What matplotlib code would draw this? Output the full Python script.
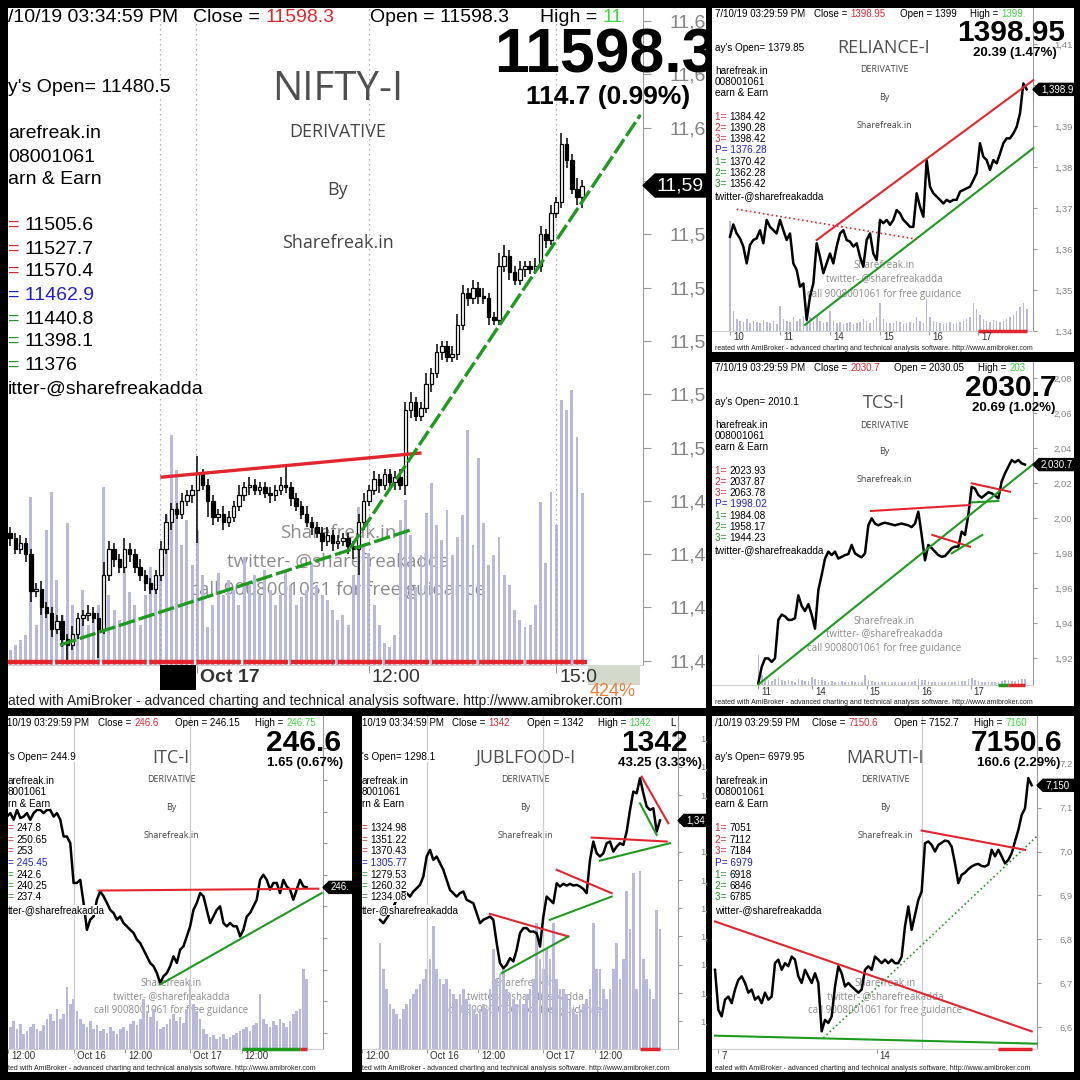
import numpy as np
import matplotlib
matplotlib.use("Agg")
import matplotlib.pyplot as plt
import matplotlib.transforms as mtransforms
from matplotlib.patches import Rectangle, Polygon

plt.rcParams["font.family"] = ["Liberation Sans", "DejaVu Sans"]

LAV = "#b9b9dd"
RED = "#e3262e"
GRN = "#1e9b1e"
HIGRN = "#3bd83b"
BLUE = "#2020d0"
K = "black"
TITLE_FONT = "Open Sans"

# ---------------- NIFTY-I : 5 min candles (16-17 Oct) ----------------
nifty_first_open = 11468
nifty_close = [11466, 11462, 11464, 11460, 11446, 11447, 11440, 11438, 11432, 11435,
               11428, 11426, 11430, 11436, 11437, 11438, 11436, 11432, 11452, 11462,
               11458, 11455, 11462, 11460, 11455, 11452, 11449, 11447, 11452, 11462,
               11472, 11477, 11475, 11480, 11482, 11484, 11490, 11486, 11480, 11474,
               11475, 11472, 11474, 11478, 11482, 11485, 11486, 11484, 11485, 11483,
               11482, 11484, 11486, 11485, 11481, 11478, 11475, 11472, 11470, 11468,
               11465, 11467, 11464, 11465, 11466, 11463, 11462, 11472, 11480, 11484,
               11488, 11486, 11490, 11487, 11489, 11486, 11514, 11517, 11512, 11515,
               11524, 11528, 11536, 11538, 11534, 11535, 11546, 11558, 11556, 11560,
               11557, 11556, 11549, 11548, 11568, 11572, 11566, 11563, 11567, 11568,
               11567, 11568, 11580, 11578, 11588, 11592, 11614, 11608, 11597, 11594, 11598.3]
nifty_up = [2, 2, 3, 2, 2, 2, 3, 2, 2, 2,
            2, 2, 3, 2, 2, 3, 2, 2, 5, 3,
            2, 2, 4, 2, 2, 3, 2, 2, 2, 3,
            3, 2, 2, 3, 2, 2, 7, 2, 2, 2,
            2, 3, 2, 2, 4, 2, 3, 2, 2, 2,
            2, 2, 3, 8, 2, 2, 2, 3, 2, 2,
            2, 3, 2, 2, 2, 2, 2, 3, 3, 2,
            3, 2, 2, 2, 2, 3, 3, 4, 2, 2,
            4, 2, 3, 2, 2, 3, 4, 3, 2, 3,
            2, 3, 2, 2, 5, 4, 2, 2, 3, 2,
            2, 3, 3, 2, 3, 2, 4, 2, 2, 4, 2]
nifty_dn = [3, 2, 2, 3, 4, 2, 3, 2, 3, 2,
            3, 6, 2, 2, 3, 2, 2, 11, 2, 2,
            3, 2, 2, 3, 2, 2, 3, 2, 2, 2,
            2, 3, 2, 2, 2, 3, 20, 2, 6, 3,
            2, 3, 2, 2, 2, 2, 3, 2, 2, 2,
            3, 2, 2, 2, 3, 2, 2, 2, 3, 2,
            4, 2, 3, 2, 2, 3, 4, 10, 3, 2,
            2, 3, 2, 2, 3, 2, 4, 3, 2, 2,
            2, 3, 2, 3, 2, 2, 2, 2, 3, 2,
            3, 2, 3, 2, 2, 2, 3, 2, 2, 3,
            2, 2, 2, 3, 2, 2, 2, 3, 2, 3, 4]
nifty_vol = [15, 20, 25, 30, 168, 40, 60, 135, 173, 85,
             50, 142, 60, 45, 75, 40, 50, 60, 178, 70,
             55, 45, 103, 73, 60, 40, 70, 98, 80, 110,
             150, 230, 195, 120, 145, 100, 135, 90, 38, 60,
             92, 70, 85, 75, 60, 108, 80, 90, 70, 95,
             75, 60, 70, 95, 80, 60, 68, 75, 102, 80,
             70, 65, 55, 45, 50, 40, 90, 158, 120, 112,
             60, 40, 22, 18, 30, 145, 165, 130, 78, 110,
             152, 182, 140, 125, 155, 110, 128, 150, 235, 120,
             207, 142, 100, 110, 128, 90, 80, 55, 45, 38,
             40, 60, 163, 102, 173, 140, 265, 255, 275, 228, 172]
nifty_yticks = [11420, 11440, 11460, 11480, 11500, 11520, 11540, 11560,
                11580, 11600, 11620, 11640, 11660]
nifty_xtick_pos = [36, 69, 105]
nifty_xtick_lab = ["Oct 17", "12:00", "15:0"]
nifty_grid = [28.8, 35.8, 69, 105]
nifty_trend = [(29.2, 11488.9, 78.8, 11497.9, RED, "-"),
               (9.6, 11425.9, 76.9, 11469.0, GRN, "--"),
               (65.4, 11462.3, 121.2, 11624.8, GRN, "--")]

# ---------------- RELIANCE-I ----------------
rel_price = [1363, 1366, 1363.8, 1362.6, 1360.6, 1356.5, 1361.0, 1362.2, 1362.6, 1364.6,
             1361.4, 1367.1, 1365.4, 1364.6, 1363.8, 1367.1, 1364.6, 1362.2, 1363.8, 1356.5,
             1354.9, 1350.8, 1351.6, 1342.7, 1348.4, 1351.6, 1361.4, 1358.1, 1354.1, 1356.5,
             1358.9, 1356.5, 1360.6, 1363.8, 1364.6, 1362.2, 1361.8, 1360.6, 1361.4, 1358.1,
             1355.7, 1362.2, 1363.8, 1358.9, 1357.3, 1367.1, 1366.3, 1367.1, 1365.9, 1367.1,
             1369.5, 1368.7, 1367.1, 1366.3, 1365.4, 1365.4, 1373.6, 1370.3, 1367.9, 1381.7,
             1375.2, 1373.6, 1372.8, 1372.0, 1371.1, 1372.0, 1371.5, 1372.0, 1372.0, 1374.0,
             1374.4, 1374.8, 1375.2, 1376.8, 1378.5, 1385.8, 1382.5, 1381.7, 1379.3, 1381.7,
             1380.9, 1383.3, 1385.8, 1387.0, 1387.0, 1388.2, 1389.8, 1393.1, 1400.4, 1398.95]
rel_vol = [110, 20, 12, 10, 9, 12, 8, 10, 9, 8,
           11, 9, 8, 10, 7, 25, 12, 10, 9, 14,
           10, 12, 15, 18, 14, 10, 16, 10, 8, 9,
           20, 10, 8, 9, 7, 8, 9, 7, 8, 9,
           12, 10, 8, 11, 14, 28, 12, 9, 8, 8,
           10, 9, 7, 8, 9, 8, 14, 10, 8, 32,
           14, 10, 9, 8, 7, 8, 9, 7, 8, 9,
           10, 12, 14, 28, 22, 16, 12, 10, 9, 11,
           10, 9, 10, 12, 14, 16, 20, 24, 28, 22]
rel_yticks = [1340, 1350, 1360, 1370, 1380, 1390, 1400, 1410]
rel_seps = [0, 15, 30, 45, 59.7, 74.5]
rel_seplab = ["10", "11", "14", "15", "16", "17"]
rel_trend = [(26, 1362.2, 91, 1401.2, RED, "-"),
             (22.5, 1341.5, 91, 1384.6, GRN, "-"),
             (2, 1369.7, 56, 1362.4, RED, ":")]

# ---------------- TCS-I ----------------
tcs_price = [1906, 1915, 1920, 1920, 1918, 1920, 1942, 1945, 1944, 1942,
             1942, 1943, 1956, 1950, 1947, 1951, 1945, 1937, 1959, 1967.6,
             1977, 1981, 1979, 1981, 1977, 1978, 1979, 1979.6, 1984.8, 1980,
             1978.7, 1977.7, 1980, 1996, 2000, 1997, 1996, 1997, 1997.5, 1997,
             1996.5, 1996, 1996.6, 1997, 1996.5, 1996, 1995, 1997, 2003.8, 1990.5,
             1976, 1984.8, 1983, 1981, 1979, 1978, 1978.5, 1980.6, 1982.9, 1983.8,
             1983.8, 1992.4, 1990.5, 2002, 2018, 2017, 2013.3, 2011.8, 2013.3, 2014.9,
             2014.3, 2013, 2011.4, 2021, 2025.7, 2029.5, 2033.3, 2032, 2033.3, 2031.4, 2030.7]
tcs_vol = [30, 10, 6, 5, 4, 6, 8, 5, 4, 5,
           4, 3, 6, 5, 4, 4, 8, 6, 5, 5,
           4, 3, 4, 3, 3, 4, 3, 3, 4, 3,
           3, 3, 10, 5, 4, 3, 3, 3, 3, 3,
           3, 3, 3, 3, 3, 3, 3, 4, 6, 5,
           5, 4, 3, 3, 3, 3, 3, 3, 3, 3,
           4, 4, 4, 6, 7, 5, 4, 3, 3, 3,
           3, 3, 3, 4, 5, 5, 4, 4, 5, 6, 6]
tcs_yticks = [1920, 1940, 1960, 1980, 2000, 2020, 2040, 2060, 2080]
tcs_seps = [0, 16.2, 32.5, 48, 63.7]
tcs_seplab = ["11", "14", "15", "16", "17"]
tcs_trend = [(0, 1905.1, 82.5, 2031.0, GRN, "-"),
             (33.8, 2004.2, 63.5, 2007.6, RED, "-"),
             (52.2, 1990.5, 63.5, 1983.8, RED, "-"),
             (58, 1980.0, 67.2, 1990.5, GRN, "-"),
             (64, 2020.0, 75.5, 2015.2, RED, "-"),
             (64, 2009.1, 72, 2009.9, GRN, "-")]

# ---------------- ITC-I ----------------
itc_price = [248.84, 248.95, 248.74, 249.05, 248.79, 248.84, 248.95, 248.74, 248.95, 249.05,
             249.05, 248.95, 249.05, 249.05, 248.84, 248.95, 248.74, 248.21, 248.21, 248.0,
             246.74, 246.74, 246.84, 246.11, 245.26, 245.58, 245.68, 246.21, 246.47, 246.32,
             246.11, 245.89, 245.79, 245.58, 245.68, 245.47, 245.37, 245.26, 245.16, 244.95,
             244.84, 244.63, 244.42, 244.21, 244.11, 243.89, 243.58, 243.79, 243.89, 244.11,
             244.42, 244.21, 244.63, 244.74, 245.05, 245.37, 245.89, 246.11, 246.42, 246.32,
             245.89, 245.47, 245.68, 245.89, 246.0, 245.47, 245.37, 245.47, 245.37, 245.37,
             245.05, 245.26, 245.68, 245.79, 246.0, 246.21, 246.84, 247.0, 246.84, 246.53,
             246.74, 246.74, 246.42, 246.84, 246.63, 246.53, 246.21, 246.53, 246.84, 246.63, 246.6]
itc_vol = [25, 22, 28, 20, 25, 15, 18, 22, 25, 20,
           18, 24, 30, 35, 28, 40, 30, 35, 62, 45,
           50, 38, 30, 25, 22, 28, 20, 24, 18, 20,
           16, 22, 18, 15, 20, 22, 18, 25, 28, 24,
           30, 50, 38, 32, 40, 28, 20, 22, 25, 30,
           35, 28, 32, 26, 40, 70, 45, 38, 30, 20,
           15, 12, 14, 10, 12, 15, 10, 12, 14, 16,
           18, 20, 22, 18, 24, 26, 55, 30, 25, 22,
           28, 24, 30, 26, 22, 28, 35, 38, 40, 80, 70]
itc_yticks = [242, 243, 244, 245, 246, 247, 248, 249, 250, 251]
itc_seps = [0.3, 20, 35.5, 55, 70.5]
itc_seplab = ["12:00", "Oct 16", "12:00", "Oct 17", "12:00"]
itc_trend = [(27.5, 246.5, 93.5, 246.56, RED, "-"),
             (46, 243.53, 94.5, 246.42, GRN, "-")]

# ---------------- JUBLFOOD-I ----------------
jub_price = [1271.8, 1269.4, 1272.9, 1276.5, 1281.2, 1285.9, 1289.4, 1291.8, 1290.6, 1288.2,
             1291.8, 1294.1, 1296.5, 1302.4, 1316.5, 1321.2, 1314.1, 1316.5, 1311.8, 1307.1,
             1300.0, 1292.9, 1290.6, 1288.2, 1290.6, 1291.8, 1285.9, 1284.7, 1283.5, 1276.5,
             1269.4, 1271.8, 1272.9, 1274.1, 1271.8, 1255.3, 1241.2, 1237.6, 1240.0, 1244.7,
             1242.4, 1250.6, 1262.4, 1265.9, 1265.9, 1263.5, 1263.5, 1262.4, 1252.9, 1274.1,
             1288.2, 1285.9, 1283.5, 1297.6, 1295.3, 1297.2, 1296.0, 1297.2, 1296.0, 1296.5,
             1295.3, 1293.6, 1290.6, 1314.1, 1327.1, 1318.8, 1316.5, 1318.8, 1325.9, 1327.1,
             1320.0, 1323.5, 1325.9, 1324.7, 1334.1, 1349.4, 1362.4, 1361.2, 1371.8, 1361.2,
             1351.8, 1349.4, 1350.6, 1334.1, 1342.0]
jub_vol = [106, 80, 60, 45, 40, 35, 30, 40, 45, 50,
           55, 60, 65, 70, 80, 90, 123, 80, 70, 65,
           70, 60, 55, 50, 55, 60, 50, 45, 40, 35,
           40, 45, 40, 60, 100, 70, 75, 80, 60, 55,
           50, 45, 50, 45, 55, 60, 70, 126, 90, 80,
           100, 90, 126, 70, 60, 60, 55, 50, 40, 35,
           40, 45, 50, 60, 126, 80, 80, 60, 50, 60,
           80, 106, 70, 90, 158, 120, 176, 60, 178, 90,
           70, 60, 50, 139, 120]
jub_yticks = [1200, 1220, 1240, 1260, 1280, 1300, 1320, 1340, 1360, 1380, 1400]
jub_seps = [-5.3, 14, 29.5, 49, 64.5]
jub_seplab = ["12:00", "Oct 16", "12:00", "Oct 17", "12:00"]
jub_trend = [(33, 1276.0, 56.5, 1260.0, RED, "-"),
             (36.5, 1234.1, 56.5, 1260.0, GRN, "-"),
             (53, 1307.1, 69.5, 1290.6, RED, "-"),
             (51, 1271.8, 69.5, 1288.2, GRN, "-"),
             (63.5, 1329.9, 86, 1327.1, RED, "-"),
             (66, 1313.6, 87, 1325.9, GRN, "-"),
             (78.5, 1372.9, 86.5, 1340.0, RED, "-"),
             (78, 1354.1, 83, 1331.8, GRN, "-")]

# ---------------- MARUTI-I ----------------
mar_price = [6731, 6640, 6625, 6663, 6670, 6655, 6686, 6708, 6716, 6701,
             6679, 6686, 6663, 6670, 6655, 6679, 6663, 6670, 6746, 6754,
             6731, 6746, 6739, 6761, 6754, 6716, 6701, 6731, 6716, 6701,
             6723, 6701, 6591, 6617, 6610, 6625, 6693, 6739, 6723, 6693,
             6701, 6693, 6686, 6679, 6686, 6731, 6739, 6731, 6761, 6754,
             6746, 6754, 6746, 6754, 6746, 6746, 6761, 6830, 6875, 6822,
             6856, 6890, 6909, 7019, 7023, 7015, 7000, 7015, 7020, 7025,
             7023, 7011, 6973, 6928, 6947, 6952, 6960, 6966, 6970, 6972,
             6967, 6966, 6970, 7004, 6989, 7004, 6989, 6973, 6981, 6996,
             7023, 7049, 7083, 7098, 7167, 7150.6]
mar_yticks = [6600, 6700, 6800, 6900, 7000, 7100, 7200]
mar_seps = [1, 48.5]
mar_seplab = ["7", "14"]
mar_trend = [(0, 6840.9, 95, 6590.9, RED, "-"),
             (0, 6581.1, 96.5, 6562.9, GRN, "-"),
             (32.5, 6575.8, 96.5, 7034.1, GRN, ":"),
             (62, 7047.7, 93, 7003.8, RED, "-")]

FOOT = "with AmiBroker - advanced charting and technical analysis software. http://www.amibroker.com"

W = H = 1080
fig = plt.figure(figsize=(10.8, 10.8), dpi=100, facecolor="black")


def frect(x0, y0, x1, y1):
    return [x0 / W, 1 - y1 / H, (x1 - x0) / W, (y1 - y0) / H]


def make_axes(box, plot):
    bw, bh = box[2] - box[0], box[3] - box[1]
    frame = fig.add_axes(frect(*box), zorder=0)
    frame.set_facecolor("white")
    frame.set_xticks([])
    frame.set_yticks([])
    for s in frame.spines.values():
        s.set_visible(False)
    frame.set_xlim(0, bw)
    frame.set_ylim(bh, 0)
    vax = fig.add_axes(frect(*plot), zorder=1)
    vax.axis("off")
    ax = fig.add_axes(frect(*plot), zorder=2)
    ax.patch.set_alpha(0)
    ov = fig.add_axes(frect(*box), zorder=3)
    ov.axis("off")
    ov.set_xlim(0, bw)
    ov.set_ylim(bh, 0)
    return frame, vax, ax, ov


def chain(ax, x, y, parts, size, bg=False, weight="normal"):
    kw = dict(fontsize=size, fontweight=weight, clip_on=True)
    if bg:
        kw["bbox"] = dict(facecolor="white", edgecolor="none", pad=0.2)
    s, c = parts[0]
    t = ax.text(x, y, s, color=c, ha="left", va="center", **kw)
    for s, c in parts[1:]:
        t = ax.annotate(s, xy=(1, 0.5), xycoords=t, ha="left", va="center", color=c, **kw)
    return t


def draw_panel(c):
    box, plot = c["box"], c["plot"]
    frame, vax, ax, ov = make_axes(box, plot)
    pw, ph = plot[2] - plot[0], plot[3] - plot[1]
    sz = c["sizes"]
    xlim, ylim = c["xlim"], c["ylim"]
    last = c["price"][-1]
    ppu = ph / (ylim[1] - ylim[0])
    tw, th, tp = c["tag_geom"]

    # price axis (labels under the price tag are hidden by it)
    ax.set_xlim(*xlim)
    ax.set_ylim(*ylim)
    for k in ("left", "top"):
        ax.spines[k].set_visible(False)
    ax.spines["right"].set_color("#9a9a9a")
    ax.spines["bottom"].set_color("#cfcfcf")
    ax.yaxis.tick_right()
    ax.set_yticks(c["yticks"])
    ax.set_yticklabels(["" if abs(v - last) * ppu < th else f"{v:,.0f}"[:c["nchar"]]
                        for v in c["yticks"]])
    ax.tick_params(axis="y", length=c["tlen"], color="#9a9a9a", labelcolor="#858585",
                   labelsize=sz["ylab"], pad=c["ypad"])
    ax.set_xticks(c["seps"])
    ax.set_xticklabels([])
    ax.tick_params(axis="x", length=c["tlen"], color="#9a9a9a")

    for g in c.get("full_seps", []):
        ax.axvline(g, color="#cccccc", lw=0.9, zorder=0)
    for g in c.get("dotted", []):
        ax.axvline(g, color="#9a9a9a", lw=0.9, ls=(0, (1, 3)), zorder=0)

    # volume
    if c.get("vol") is not None:
        vol = c["vol"]
        vax.bar(np.arange(len(vol)), vol, width=c.get("vwidth", 0.55), color=LAV, linewidth=0)
        vax.set_xlim(*xlim)
        vax.set_ylim(0, ph)

    # price
    if c.get("candles"):
        cl = np.array(c["price"], dtype=float)
        op = np.concatenate([[c["first_open"]], cl[:-1]])
        hi = np.maximum(op, cl) + np.array(c["up"])
        lo = np.minimum(op, cl) - np.array(c["dn"])
        idx = np.arange(len(cl))
        ax.vlines(idx, lo, hi, color=K, lw=1.1, zorder=3)
        body_lo = np.minimum(op, cl)
        body_h = np.maximum(np.abs(cl - op), 0.5)
        colors = np.where(cl >= op, "white", "black")
        ax.bar(idx, body_h, bottom=body_lo, width=0.68, color=colors, edgecolor=K,
               linewidth=0.9, zorder=4)
    else:
        p = c["price"]
        ax.plot(np.arange(len(p)), p, color=K, lw=c.get("plw", 1.8), zorder=4)

    for (x0, y0, x1, y1, col, ls) in c["trend"]:
        if ls == "--":
            ax.plot([x0, x1], [y0, y1], color=col, lw=c["tlw"], zorder=5, clip_on=False,
                    dashes=(5, 1.2))
        elif ls == ":":
            ax.plot([x0, x1], [y0, y1], color=col, lw=c["tlw"] * 0.8, ls=":", zorder=5,
                    clip_on=False)
        else:
            ax.plot([x0, x1], [y0, y1], color=col, lw=c["tlw"], zorder=5, clip_on=False)

    for (a, b, col) in c.get("marks", []):
        ax.plot([a, b], [ylim[0], ylim[0]], color=col, lw=c["mlw"], solid_capstyle="butt",
                clip_on=False, zorder=6)

    # date labels under the axis
    tr = mtransforms.offset_copy(mtransforms.blended_transform_factory(ax.transData, ov.transData),
                                 fig=fig, x=c["xoff"], y=0, units="dots")
    for pos, lab, bold in zip(c["seps"], c["seplab"], c.get("sepbold", [False] * 9)):
        ov.text(pos, c["xlab_y"], lab, transform=tr, ha="left", va="center",
                fontsize=sz["xlab"], color="#333333", clip_on=True,
                fontweight="bold" if bold else "normal")

    # price tag on the right axis
    ttr = mtransforms.blended_transform_factory(ax.transAxes, ax.transData)
    hh = th / 2 / ppu
    tag = Polygon([(1, last), (1 + tp / pw, last + hh), (1 + tw / pw, last + hh),
                   (1 + tw / pw, last - hh), (1 + tp / pw, last - hh)], closed=True,
                  transform=ttr, facecolor="black", edgecolor="black")
    ov.add_patch(tag)
    ov.text(1, last, c["tag"], transform=mtransforms.offset_copy(ttr, fig=fig, x=c["tag_off"], units="dots"),
            color="white", fontsize=sz["tag"], ha="left", va="center", clip_on=True)

    # header line
    for (x, parts) in c["header"]:
        chain(ov, x, c["hdr_y"], parts, sz["hdr"])
    # left info block (white boxes hide the chart)
    for (y, parts) in zip(c["left_y"], c["left"]):
        chain(ov, c["left_x"], y, parts, sz["left"], bg=True)

    cx = c["cx"]
    frame.text(cx, c["title_y"], c["title"], ha="center", va="center", color="#4f4f4f",
               fontsize=sz["title"], family=TITLE_FONT)
    for s, y in zip(["DERIVATIVE", "By", "Sharefreak.in"], c["sub_y"]):
        frame.text(cx, y, s, ha="center", va="center", color="#454545",
                   fontsize=sz["sub"], family=TITLE_FONT)
    for s, y in zip(["Sharefreak.in", "twitter- @sharefreakadda",
                     "call 9008001061 for free guidance"], c["water_y"]):
        frame.text(cx, y, s, ha="center", va="center", color="#8c8c8c",
                   fontsize=sz["water"], family=TITLE_FONT)

    bx, by = c["big_xy"]
    ov.text(bx, by, c["big"], ha="right", va="center", fontsize=sz["big"], fontweight="bold",
            color=K, clip_on=True)
    gx, gy = c["chg_xy"]
    ov.text(gx, gy, c["chg"], ha="right", va="center", fontsize=sz["chg"], fontweight="bold",
            color=K, clip_on=True)
    ov.text(c["foot_xy"][0], c["foot_xy"][1], c["foot"], ha="left", va="center",
            fontsize=sz["foot"], color="#222222", clip_on=True)
    return frame, vax, ax, ov


SMALL = dict(hdr=7, left=7.2, title=13, sub=6.5, big=21.5, chg=9.5, water=7,
             foot=5, xlab=7, ylab=6.8, tag=7)
BIG = dict(hdr=14, left=14, title=29, sub=13, big=45, chg=19, water=13.5,
           foot=10, xlab=14, ylab=14, tag=14)


def pivots(vals, pre):
    r = [[(pre[i], RED), (vals[i], K)] for i in range(3)]
    pp = [[(pre[3] + vals[3], BLUE)]]
    s = [[(pre[i], GRN), (vals[i], K)] for i in range(4, 7)]
    return r + pp + s


TOP_Y = [40, 63, 74, 85, 109, 120, 131, 142, 154, 165, 176, 188]
BOT_Y = [41, 65, 76, 88, 112, 124, 135, 147, 159, 170, 181, 194]
PRE_A = ["1= ", "2= ", "3= ", "P= ", "1= ", "2= ", "3= "]
PRE_B = ["= "] * 7

# ---------------- NIFTY ----------------
nifty_cfg = dict(
    box=(8, 8, 706, 708), plot=(8, 8, 643, 665), sizes=BIG,
    xlim=(-0.4, 121.7), ylim=(11418.4, 11664.9), yticks=nifty_yticks, nchar=4,
    tlen=6, ypad=13, seps=nifty_xtick_pos, seplab=nifty_xtick_lab, sepbold=[True, False, False],
    dotted=nifty_grid, vol=nifty_vol, vwidth=0.55, candles=True, price=nifty_close,
    first_open=nifty_first_open, up=nifty_up, dn=nifty_dn, trend=nifty_trend, tlw=2.4,
    marks=[], mlw=3, xoff=3, xlab_y=669, tag="11,59", tag_geom=(75, 23, 12), tag_off=13,
    hdr_y=10,
    header=[(0, [("/10/19 03:34:59 PM", K)]),
            (185, [("Close = ", K), ("11598.3", RED)]),
            (362, [("Open = 11598.3", K)]),
            (532, [("High = ", K), ("11", HIGRN)])],
    left_x=0, left_y=[80, 126, 149, 172, 218, 241, 264, 288, 311, 334, 358, 381],
    left=[[("y's Open= 11480.5", K)], [("arefreak.in", K)], [("08001061", K)], [("arn & Earn", K)]]
         + pivots(["11505.6", "11527.7", "11570.4", "11462.9", "11440.8", "11398.1", "11376"], PRE_B)
         + [[("itter-@sharefreakadda", K)]],
    cx=330, title="NIFTY-I", title_y=82, sub_y=[124, 182, 235], water_y=[525, 554, 582],
    big="11598.3", big_xy=(708, 48), chg="114.7 (0.99%)", chg_xy=(682, 89),
    foot="ated " + FOOT, foot_xy=(0, 693),
)
frame, vax, ax, ov = draw_panel(nifty_cfg)
# dashed red strip along the bottom and the black day marker
ax.plot([-0.4, 111], [11419.6, 11419.6], color=RED, lw=3.2, dashes=(10, 0.6), zorder=6)
btr = mtransforms.blended_transform_factory(ax.transData, ov.transData)
ov.add_patch(Rectangle((28.8, 657), 7.0, 25, transform=btr, facecolor="black", edgecolor="none"))
ov.add_patch(Rectangle((580, 657), 52, 20, facecolor="#d3dacb", edgecolor="none"))
ov.text(582, 684, "424%", color="#f07a3a", fontsize=13, ha="left", va="center", clip_on=True)

# ---------------- small panels ----------------
rel_cfg = dict(
    box=(712, 8, 1074, 352), plot=(712, 8, 1033, 331), sizes=SMALL,
    xlim=(-5.4, 90.9), ylim=(1340, 1418.8), yticks=rel_yticks, nchar=4, tlen=3, ypad=12,
    seps=rel_seps, seplab=rel_seplab, vol=rel_vol, vwidth=0.5, price=rel_price,
    trend=rel_trend, tlw=1.5, marks=[(74.5, 89, RED)], mlw=2.5, xoff=3, xlab_y=329,
    tag="1,398.9", tag_geom=(45, 12, 6), tag_off=8, hdr_y=6,
    header=[(3, [("7/10/19 03:29:59 PM", K)]),
            (102, [("Close = ", K), ("1398.95", RED)]),
            (188, [("Open = 1399", K)]),
            (258, [("High = ", K), ("1399.", HIGRN)])],
    left_x=3, left_y=TOP_Y,
    left=[[("ay's Open= 1379.85", K)], [("harefreak.in", K)], [("008001061", K)], [("earn & Earn", K)]]
         + pivots(["1384.42", "1390.28", "1398.42", "1376.28", "1370.42", "1362.28", "1356.42"], PRE_A)
         + [[("twitter-@sharefreakadda", K)]],
    cx=172, title="RELIANCE-I", title_y=40, sub_y=[62, 90, 118], water_y=[258, 271, 286],
    big="1398.95", big_xy=(353, 25), chg="20.39 (1.47%)", chg_xy=(345, 45),
    foot="reated " + FOOT, foot_xy=(3, 341),
)
draw_panel(rel_cfg)

tcs_cfg = dict(
    box=(712, 362, 1074, 706), plot=(712, 362, 1033, 685), sizes=SMALL,
    xlim=(-13.9, 82.4), ylim=(1904.8, 2089.3), yticks=tcs_yticks, nchar=4, tlen=3, ypad=12,
    seps=tcs_seps, seplab=tcs_seplab, vol=tcs_vol, vwidth=0.5, price=tcs_price,
    trend=tcs_trend, tlw=1.5, marks=[(72, 75, GRN), (75, 80, RED)], mlw=2.5, xoff=3, xlab_y=330,
    tag="2,030.7", tag_geom=(45, 12, 6), tag_off=8, hdr_y=6,
    header=[(3, [("7/10/19 03:29:59 PM", K)]),
            (102, [("Close = ", K), ("2030.7", RED)]),
            (182, [("Open = 2030.05", K)]),
            (266, [("High = ", K), ("203", HIGRN)])],
    left_x=3, left_y=TOP_Y,
    left=[[("ay's Open= 2010.1", K)], [("harefreak.in", K)], [("008001061", K)], [("earn & Earn", K)]]
         + pivots(["2023.93", "2037.87", "2063.78", "1998.02", "1984.08", "1958.17", "1944.23"], PRE_A)
         + [[("twitter-@sharefreakadda", K)]],
    cx=172, title="TCS-I", title_y=41, sub_y=[63, 90, 118], water_y=[259, 272, 286],
    big="2030.7", big_xy=(345, 26), chg="20.69 (1.02%)", chg_xy=(343, 46),
    foot="reated " + FOOT, foot_xy=(3, 341),
)
draw_panel(tcs_cfg)

itc_cfg = dict(
    box=(8, 716, 352, 1072), plot=(8, 716, 323, 1049), sizes=SMALL,
    xlim=(0.3, 94.9), ylim=(241.49, 252.02), yticks=itc_yticks, nchar=0, tlen=3, ypad=12,
    seps=itc_seps, seplab=itc_seplab, full_seps=[20, 55], vol=itc_vol, vwidth=0.8,
    price=itc_price, trend=itc_trend, tlw=1.5, marks=[(70.5, 88, GRN), (88, 90, RED)], mlw=2.5,
    xoff=3, xlab_y=340, tag="246.", tag_geom=(45, 12, 6), tag_off=8, hdr_y=7,
    header=[(-1, [("10/19 03:29:59 PM", K)]),
            (90, [("Close = ", K), ("246.6", RED)]),
            (167, [("Open = 246.15", K)]),
            (247, [("High = ", K), ("246.75", HIGRN)])],
    left_x=0, left_y=BOT_Y,
    left=[[("'s Open= 244.9", K)], [("arefreak.in", K)], [("8001061", K)], [("rn & Earn", K)]]
         + pivots(["247.8", "250.65", "253", "245.45", "242.6", "240.25", "237.4"], PRE_B)
         + [[("tter-@sharefreakadda", K)]],
    cx=163, title="ITC-I", title_y=42, sub_y=[63, 91, 120], water_y=[267, 281, 295],
    big="246.6", big_xy=(333, 27), chg="1.65 (0.67%)", chg_xy=(335, 47),
    foot="ted " + FOOT, foot_xy=(0, 352),
)
draw_panel(itc_cfg)

jub_cfg = dict(
    box=(362, 716, 706, 1072), plot=(362, 716, 678, 1049), sizes=SMALL,
    xlim=(-5.4, 89.4), ylim=(1180.5, 1415.8), yticks=jub_yticks, nchar=2, tlen=3, ypad=13,
    seps=jub_seps, seplab=jub_seplab, full_seps=[14, 49], vol=jub_vol, vwidth=0.8,
    price=jub_price, trend=jub_trend, tlw=1.5, marks=[(78, 84, RED)], mlw=2.5,
    xoff=3, xlab_y=340, tag="1,34", tag_geom=(45, 12, 6), tag_off=8, hdr_y=7,
    header=[(0, [("10/19 03:34:59 PM", K)]),
            (90, [("Close = ", K), ("1342", RED)]),
            (165, [("Open = 1342", K)]),
            (236, [("High = ", K), ("1342", HIGRN)]),
            (308, [("L", K)])],
    left_x=0, left_y=BOT_Y,
    left=[[("'s Open= 1298.1", K)], [("arefreak.in", K)], [("8001061", K)], [("rn & Earn", K)]]
         + pivots(["1324.98", "1351.22", "1370.43", "1305.77", "1279.53", "1260.32", "1234.08"], PRE_B)
         + [[("tter-@sharefreakadda", K)]],
    cx=163, title="JUBLFOOD-I", title_y=42, sub_y=[63, 91, 120], water_y=[267, 281, 295],
    big="1342", big_xy=(326, 27), chg="43.25 (3.33%)", chg_xy=(340, 47),
    foot="ted " + FOOT, foot_xy=(0, 352),
)
draw_panel(jub_cfg)

mar_cfg = dict(
    box=(712, 716, 1074, 1072), plot=(712, 716, 1037, 1049), sizes=SMALL,
    xlim=(-0.9, 96.6), ylim=(6550.8, 7308.3), yticks=mar_yticks, nchar=3, tlen=3, ypad=13,
    seps=mar_seps, seplab=mar_seplab, full_seps=[62], vol=None,
    price=mar_price, trend=mar_trend, tlw=1.5, marks=[(85, 95, RED)], mlw=2.5,
    xoff=3, xlab_y=340, tag="7,150", tag_geom=(45, 12, 6), tag_off=8, hdr_y=7,
    header=[(3, [("/10/19 03:29:59 PM", K)]),
            (100, [("Close = ", K), ("7150.6", RED)]),
            (182, [("Open = 7152.7", K)]),
            (262, [("High = ", K), ("7160", HIGRN)])],
    left_x=3, left_y=BOT_Y,
    left=[[("ay's Open= 6979.95", K)], [("harefreak.in", K)], [("008001061", K)], [("earn & Earn", K)]]
         + pivots(["7051", "7112", "7184", "6979", "6918", "6846", "6785"], PRE_A)
         + [[("witter-@sharefreakadda", K)]],
    cx=173, title="MARUTI-I", title_y=42, sub_y=[63, 91, 120], water_y=[267, 281, 295],
    big="7150.6", big_xy=(350, 27), chg="160.6 (2.29%)", chg_xy=(348, 47),
    foot="eated " + FOOT, foot_xy=(3, 352),
)
draw_panel(mar_cfg)

fig.savefig("out.png", dpi=100, facecolor="black")
